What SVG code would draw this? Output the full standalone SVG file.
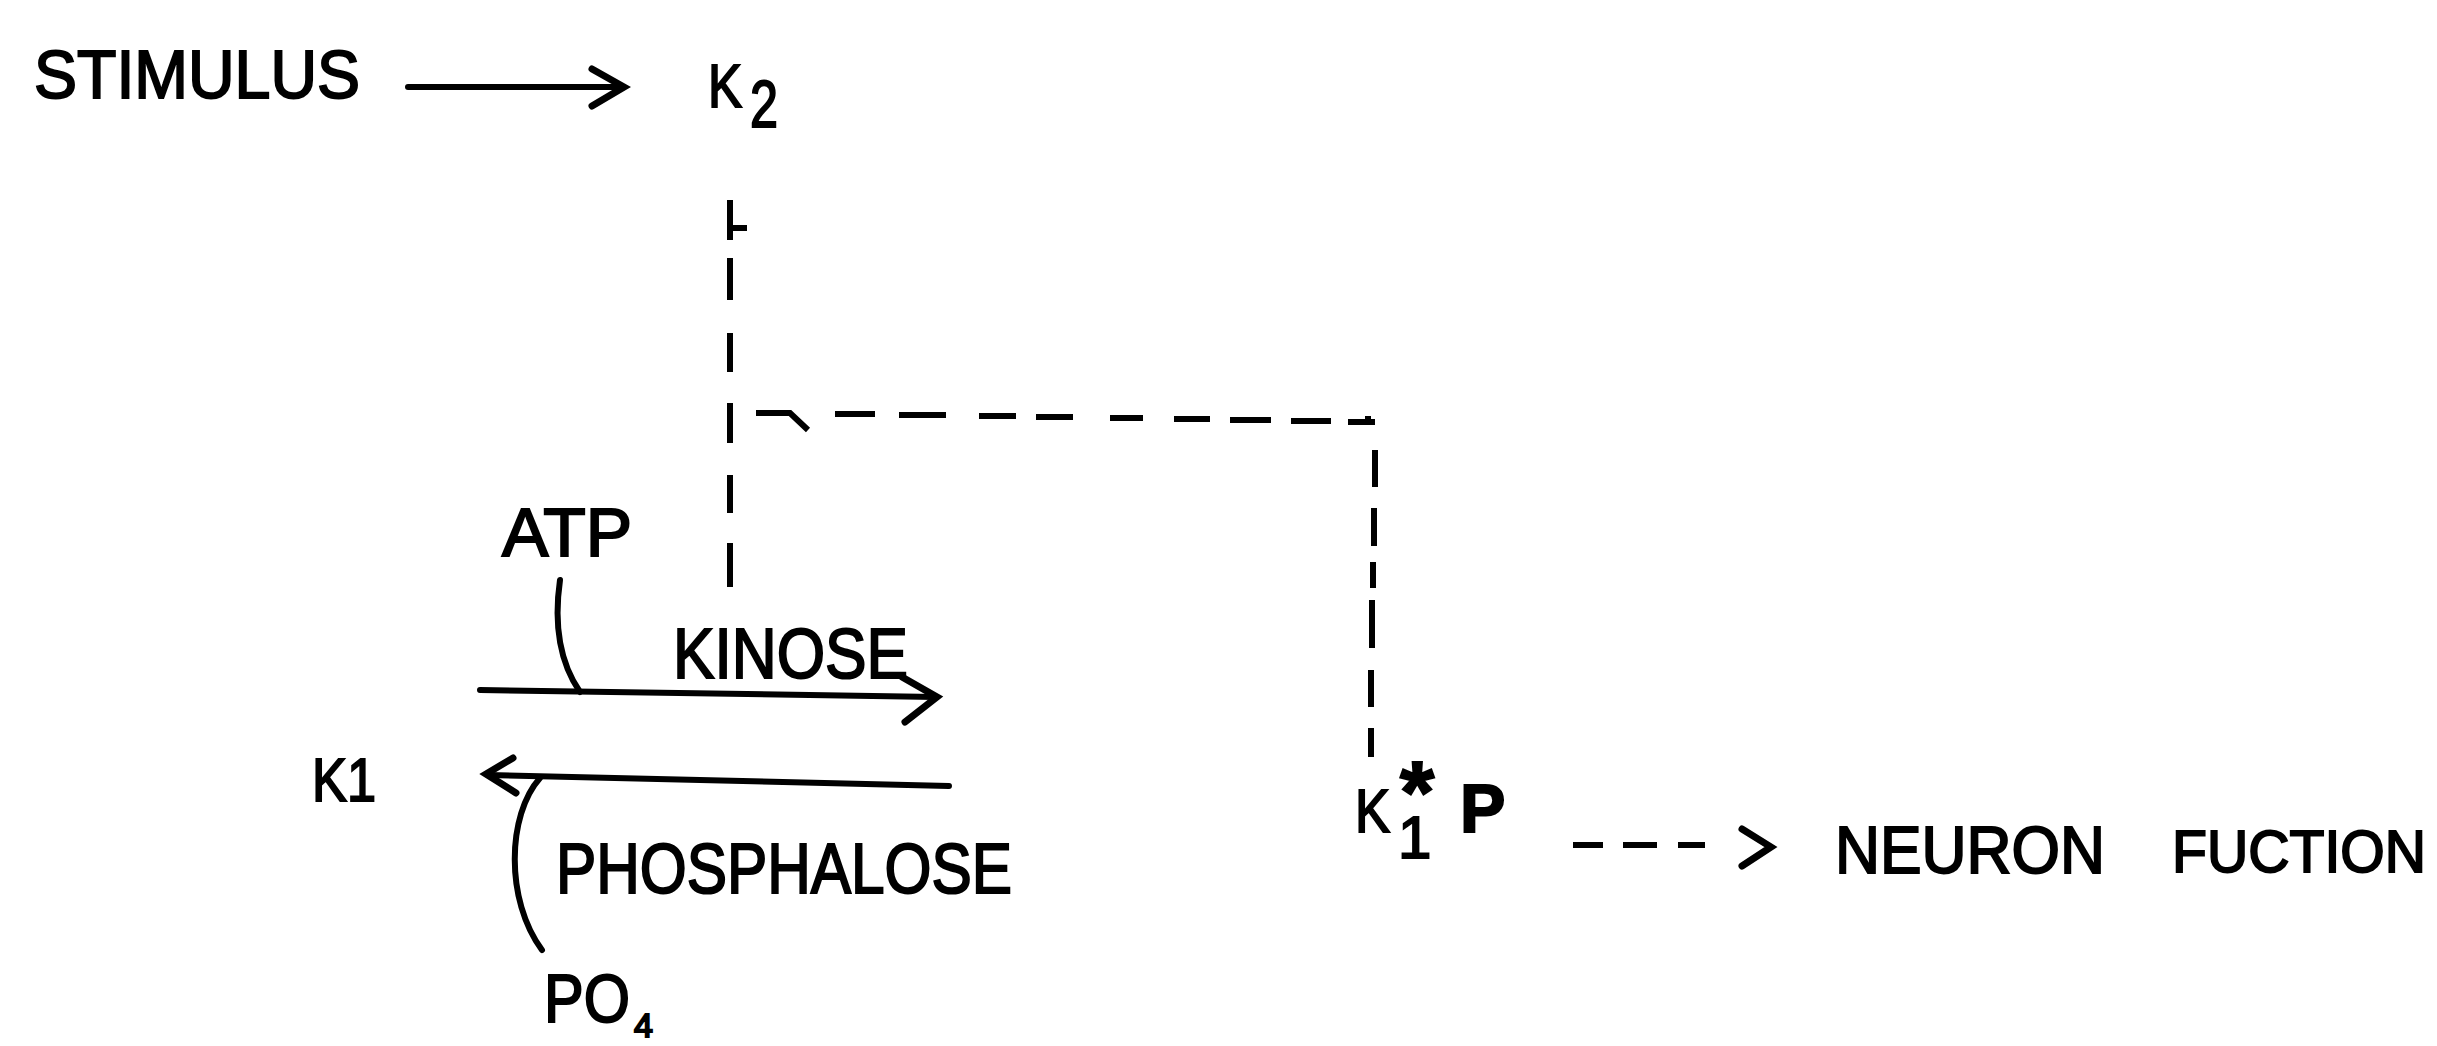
<svg xmlns="http://www.w3.org/2000/svg" width="2437" height="1046" viewBox="0 0 2437 1046">
  <style>
    .t { font-family: "Liberation Sans", Arial, sans-serif; fill: #000; stroke: #000; stroke-width: 2; }
    .ln { stroke: #000; stroke-width: 6; fill: none; stroke-linecap: round; stroke-linejoin: round; }
    .dash { stroke: #000; stroke-width: 6; fill: none; stroke-linecap: butt; }
    .head { stroke: #000; stroke-width: 7; fill: none; stroke-linecap: round; stroke-linejoin: miter; }
  </style>
  <rect width="2437" height="1046" fill="#fff"/>

  <g id="stimulus">
    <text class="t" x="34" y="98" font-size="68" textLength="326" lengthAdjust="spacingAndGlyphs">STIMULUS</text>
  </g>
  <g id="k2">
    <text class="t" font-size="62"><tspan x="708" y="107" textLength="34" lengthAdjust="spacingAndGlyphs">K</tspan><tspan x="750" y="127" font-size="66" textLength="28" lengthAdjust="spacingAndGlyphs">2</tspan></text>
  </g>
  <g id="atp">
    <text class="t" x="502" y="556" font-size="68" textLength="130" lengthAdjust="spacingAndGlyphs">ATP</text>
  </g>
  <g id="kinose">
    <text class="t" x="673" y="678" font-size="70" textLength="235" lengthAdjust="spacingAndGlyphs">KINOSE</text>
  </g>
  <g id="k1">
    <text class="t" x="312" y="801" font-size="62" textLength="64" lengthAdjust="spacingAndGlyphs">K1</text>
  </g>
  <g id="phosphalose">
    <text class="t" x="556" y="893" font-size="70" textLength="456" lengthAdjust="spacingAndGlyphs">PHOSPHALOSE</text>
  </g>
  <g id="po4">
    <text class="t" font-size="68"><tspan x="544" y="1022" textLength="86" lengthAdjust="spacingAndGlyphs">PO</tspan><tspan x="634" y="1037" font-size="34">4</tspan></text>
  </g>
  <g id="k1p">
    <text class="t" font-size="62"><tspan x="1355" y="832" textLength="35" lengthAdjust="spacingAndGlyphs">K</tspan><tspan x="1398" y="858" font-size="60">1</tspan><tspan x="1400" y="822" font-size="88" font-weight="bold">*</tspan><tspan x="1460" y="832" font-size="68" font-weight="bold">P</tspan></text>
  </g>
  <g id="neuron-function">
    <text class="t" x="1835" y="873" font-size="66" textLength="270" lengthAdjust="spacingAndGlyphs">NEURON</text>
    <text class="t" x="2172" y="872" font-size="60" textLength="254" lengthAdjust="spacingAndGlyphs">FUCTION</text>
  </g>

  <g id="connectors">
    <!-- stimulus -> K2 -->
    <line class="ln" x1="408" y1="87" x2="623" y2="87"/>
    <polyline class="head" points="592,69 624,87 592,106"/>

    <!-- vertical dashed from K2 down -->
    <path class="dash" d="M730 200 V240 M730 228 H747 M730 258 V300 M730 333 V372 M730 403 V443 M730 475 V513 M730 543 V587"/>

    <!-- horizontal dashed to the right -->
    <path class="dash" d="M756 413 H790 L808 430 M835 414 H875 M899 415 H946 M979 416 H1016 M1036 417 H1073 M1110 418 H1143 M1174 419 H1210 M1230 420 H1271 M1291 421 H1331 M1348 422 H1375 M1368 422 V416"/>

    <!-- right vertical dashed down to K1*P -->
    <path class="dash" d="M1375 450 V487 M1374 508 V546 M1373 562 V588 M1372 600 V648 M1371 670 V707 M1371 728 V757"/>

    <!-- KINOSE arrow -->
    <line class="ln" x1="480" y1="690" x2="936" y2="697"/>
    <polyline class="head" points="902,677 937,697 905,722"/>
    <path class="ln" d="M560 580 C 554 622, 558 660, 580 692"/>

    <!-- PHOSPHALOSE arrow -->
    <line class="ln" x1="949" y1="786" x2="488" y2="775"/>
    <polyline class="head" points="513,758 486,774 516,793"/>
    <path class="ln" d="M540 778 C 507 815, 505 900, 542 950"/>

    <!-- K1*P -> neuron function -->
    <path class="dash" d="M1573 845 H1603 M1623 845 H1657 M1678 845 H1705"/>
    <polyline class="head" points="1742,829 1771,847 1742,866"/>
  </g>
</svg>
